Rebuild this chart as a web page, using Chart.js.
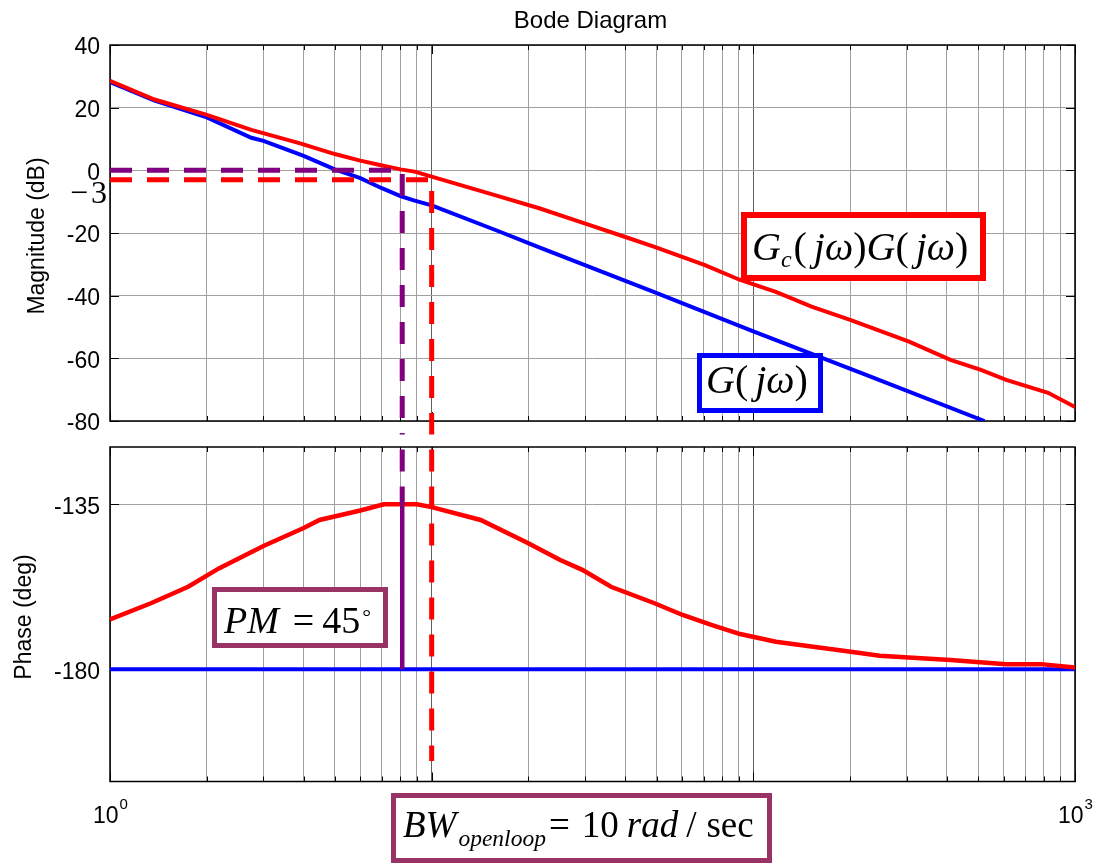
<!DOCTYPE html>
<html>
<head>
<meta charset="utf-8">
<title>Bode Diagram</title>
<script src="https://cdn.jsdelivr.net/npm/chart.js@4.4.1/dist/chart.umd.min.js"></script>
<style>
  html, body { margin: 0; padding: 0; background: #fff; }
  #wrap { position: relative; width: 1095px; height: 864px; overflow: hidden; }
  canvas { position: absolute; left: 0; }
  #mag { top: 0; }
  #phase { top: 434px; }
</style>
</head>
<body>
<div id="wrap">
  <canvas id="mag" width="1095" height="434"></canvas>
  <canvas id="phase" width="1095" height="430"></canvas>
</div>
<script>
// ── DATA ─────────────────────────────────────
// vertical grid lines (rad/s)
const gridFreqs = [1, 2, 3, 4, 5, 6, 7, 8, 9, 10, 20, 30, 40, 50, 60, 70, 80, 90,
                   100, 200, 300, 400, 500, 600, 700, 800, 900, 1000];
const decades = [1, 10, 100, 1000];
const decadeExp = ['0', '1', '2', '3'];
const magTicks = [40, 20, 0, -20, -40, -60, -80];
const phaseTicks = [-180, -135];

// G(jw) - plant
const plantMagW  = [1, 1.37, 2, 2.75, 3, 4, 5, 6, 7, 8, 8.8, 10, 16.3, 21.7, 49, 100, 218, 523];
const plantMagDb = [28.2, 22.3, 16.9, 10.4, 9.4, 4.6, 0.3, -2.5, -5.7, -8.2, -9.6, -11.2, -19.6, -24.7, -38.8, -51.4, -64.8, -80];
const plantPhaseW   = [1, 1000];
const plantPhaseDeg = [-180, -180];

// Gc(jw)G(jw) - compensated loop
const loopMagW  = [1, 1.375, 2, 2.75, 3.9, 5, 6, 6.9, 8, 8.85, 10, 16.3, 21.6, 29.4, 39.8, 49.3,
                   70.4, 91, 117.5, 151.7, 201, 305, 410, 510, 611, 825, 1000];
const loopMagDb = [28.6, 22.6, 17.7, 12.9, 8.6, 5.2, 3.1, 1.7, 0.3, -0.4, -2, -8.4, -12.1, -16.7, -21.2, -24.4,
                   -30.2, -35, -38.8, -43.5, -47.8, -54.7, -60.5, -63.7, -66.9, -71, -75.5];
const loopPhaseW   = [1, 1.34, 1.75, 2.18, 3, 4, 4.48, 6, 7.1, 9, 10, 14.2, 19.9, 25.1, 29.4, 36.1,
                      49.3, 60.3, 74, 91, 117.5, 201, 247, 410, 611, 783, 1000];
const loopPhaseDeg = [-166.4, -162, -157.5, -152.5, -146.4, -141.5, -139.3, -136.7, -135, -135, -135.8, -139.3, -145.6, -150.2, -152.9, -157.5,
                      -162, -165.2, -167.9, -170.4, -172.5, -175.2, -176.3, -177.5, -178.6, -178.6, -179.5];

// markers
const wc = 8.1;        // 0 dB crossover
const wbw = 10;        // open-loop bandwidth
const bwLevel = -3;    // dB
const pmTop = -135, pmBottom = -180;
const bwLineEnd = -205;

const PHASE_TOP = 434; // page offset of the phase canvas

// ── HELPERS ──────────────────────────────────
const sans  = '"Liberation Sans", Arial, sans-serif';
const serif = '"Liberation Serif", "Times New Roman", serif';
const pts = (ws, vs) => ws.map((w, i) => ({ x: w, y: vs[i] }));

function line(data, color, width, extra) {
  return Object.assign({
    data, borderColor: color, borderWidth: width,
    pointRadius: 0, tension: 0, fill: false
  }, extra || {});
}

function drawBox(ctx, x, y, w, h, lw, color) {
  ctx.fillStyle = '#fff';
  ctx.fillRect(x, y, w, h);
  ctx.lineWidth = lw;
  ctx.strokeStyle = color;
  ctx.strokeRect(x + lw / 2, y + lw / 2, w - lw, h - lw);
}

// text runs with mixed fonts, drawn left to right on one baseline
function drawRich(ctx, x, y, parts) {
  ctx.fillStyle = '#000';
  ctx.textAlign = 'left';
  ctx.textBaseline = 'alphabetic';
  parts.forEach(p => {
    x += p.gap || 0;
    ctx.font = p.font;
    ctx.fillText(p.t, x, y + (p.dy || 0));
    x += ctx.measureText(p.t).width;
  });
}

function vText(ctx, text, x, y) {
  ctx.save();
  ctx.translate(x, y);
  ctx.rotate(-Math.PI / 2);
  ctx.textAlign = 'center';
  ctx.textBaseline = 'alphabetic';
  ctx.fillStyle = '#000';
  ctx.font = '23px ' + sans;
  ctx.fillText(text, 0, 0);
  ctx.restore();
}

// box + inward tick marks, drawn under the curves
const frame = {
  id: 'frame',
  beforeDatasetsDraw(chart) {
    const { ctx, chartArea: a, scales: { x, y } } = chart;
    ctx.save();
    ctx.strokeStyle = '#000';
    ctx.lineWidth = 1;
    ctx.beginPath();
    gridFreqs.forEach(v => {
      const px = Math.round(x.getPixelForValue(v)) + 0.5;
      const len = decades.includes(v) ? 9 : 5;
      ctx.moveTo(px, a.top); ctx.lineTo(px, a.top + len);
      ctx.moveTo(px, a.bottom); ctx.lineTo(px, a.bottom - len);
    });
    y.ticks.forEach(t => {
      const py = Math.round(y.getPixelForValue(t.value)) + 0.5;
      ctx.moveTo(a.left, py); ctx.lineTo(a.left + 9, py);
      ctx.moveTo(a.right, py); ctx.lineTo(a.right - 9, py);
    });
    ctx.stroke();
    ctx.lineWidth = 1.5;
    ctx.strokeRect(a.left, a.top, a.right - a.left, a.bottom - a.top);
    ctx.restore();
  }
};

function xScale() {
  return {
    type: 'logarithmic', min: 1, max: 1000,
    afterBuildTicks: s => { s.ticks = gridFreqs.map(v => ({ value: v })); },
    afterFit: s => { s.height = 0; s.paddingLeft = 0; s.paddingRight = 0; },
    ticks: { display: false },
    grid: {
      drawTicks: false,
      color: c => decades.includes(c.tick && c.tick.value) ? '#606060' : '#a0a0a0',
      lineWidth: 1
    },
    border: { display: false }
  };
}

function yScale(min, max, ticks) {
  return {
    min, max,
    afterBuildTicks: s => { s.ticks = ticks.map(v => ({ value: v })); },
    // fixed axis width, no extra room reserved for the end labels
    afterFit: s => { s.width = 110; s.paddingTop = 0; s.paddingBottom = 0; },
    ticks: { color: '#000', font: { family: sans, size: 23 }, padding: 10, labelOffset: 3 },
    grid: { drawTicks: false, color: '#a0a0a0', lineWidth: 1 },
    border: { display: false }
  };
}

const baseOptions = {
  responsive: false, animation: false, devicePixelRatio: 1, events: [],
  plugins: { legend: { display: false }, tooltip: { enabled: false } }
};

// ── MAGNITUDE ────────────────────────────────
const magLabels = {
  id: 'magLabels',
  afterDraw(chart) {
    const { ctx, chartArea: a } = chart;
    ctx.save();
    ctx.fillStyle = '#000';
    ctx.textAlign = 'center';
    ctx.font = '24px ' + sans;
    ctx.fillText('Bode Diagram', (a.left + a.right) / 2 - 2, 28);
    vText(ctx, 'Magnitude (dB)', 44, 236);

    // -3 dB level label (minus set apart from the digit)
    ctx.font = '32px ' + serif;
    ctx.textAlign = 'left';
    ctx.fillText('\u2212', 70, 203);
    ctx.textAlign = 'right';
    ctx.fillText('3', 107, 203);

    const it = s => 'italic ' + s + 'px ' + serif;
    const rm = s => s + 'px ' + serif;

    drawBox(ctx, 741, 212, 245, 69, 6, '#ff0000');
    drawRich(ctx, 752, 260, [
      { t: 'G', font: it(40) },
      { t: 'c', font: it(24), dy: 7 },
      { t: '(', font: rm(40), gap: 2 },
      { t: 'j', font: it(40), gap: 7 },
      { t: '\u03c9', font: it(40) },
      { t: ')', font: rm(40) },
      { t: 'G', font: it(40) },
      { t: '(', font: rm(40) },
      { t: 'j', font: it(40), gap: 7 },
      { t: '\u03c9', font: it(40) },
      { t: ')', font: rm(40) }
    ]);

    drawBox(ctx, 697, 353, 126, 60, 5, '#0000ff');
    drawRich(ctx, 706, 393, [
      { t: 'G', font: it(40) },
      { t: '(', font: rm(40) },
      { t: 'j', font: it(40), gap: 7 },
      { t: '\u03c9', font: it(40) },
      { t: ')', font: rm(40) }
    ]);
    ctx.restore();
  }
};

new Chart(document.getElementById('mag'), {
  type: 'line',
  data: {
    datasets: [
      line([{ x: 1, y: 0 }, { x: wc, y: 0 }, { x: wc, y: -95 }], '#800080', 5,
           { borderDash: [22, 15], clip: false }),
      line([{ x: 1, y: bwLevel }, { x: wbw, y: bwLevel }, { x: wbw, y: -95 }], '#ff0000', 5,
           { borderDash: [22, 15], clip: false }),
      line(pts(loopMagW, loopMagDb), '#ff0000', 4),
      line(pts(plantMagW, plantMagDb), '#0000ff', 4)
    ]
  },
  options: Object.assign({}, baseOptions, {
    layout: { padding: { top: 45, left: 0, right: 20, bottom: 13 } },
    scales: { x: xScale(), y: yScale(-80, 40, magTicks) }
  }),
  plugins: [frame, magLabels]
});

// ── PHASE ────────────────────────────────────
const phaseLabels = {
  id: 'phaseLabels',
  afterDraw(chart) {
    const { ctx, scales: { x } } = chart;
    ctx.save();
    ctx.translate(0, -PHASE_TOP);
    vText(ctx, 'Phase (deg)', 31, 617);

    // 10^n labels under the decades
    ctx.fillStyle = '#000';
    ctx.textAlign = 'left';
    decades.forEach((v, i) => {
      ctx.font = '23px ' + sans;
      const wBase = ctx.measureText('10').width;
      ctx.font = '15px ' + sans;
      const wExp = ctx.measureText(decadeExp[i]).width;
      const x0 = x.getPixelForValue(v) - (wBase + wExp) / 2;
      ctx.font = '23px ' + sans;
      ctx.fillText('10', x0, 823);
      ctx.font = '15px ' + sans;
      ctx.fillText(decadeExp[i], x0 + wBase + 1, 809);
    });

    const it = s => 'italic ' + s + 'px ' + serif;
    const rm = s => s + 'px ' + serif;

    drawBox(ctx, 212, 587, 176, 61, 5, '#993366');
    drawRich(ctx, 224, 633, [
      { t: 'PM', font: it(38) },
      { t: '=', font: rm(38), gap: 14 },
      { t: '45', font: rm(38), gap: 8 },
      { t: '\u00b0', font: rm(22), gap: 2, dy: -9 }
    ]);

    drawBox(ctx, 391, 793, 381, 70, 5, '#993366');
    drawRich(ctx, 403, 837, [
      { t: 'BW', font: it(37) },
      { t: 'openloop', font: it(23.5), gap: 2, dy: 9 },
      { t: '=', font: rm(37), gap: 3 },
      { t: '10', font: rm(37), gap: 12 },
      { t: 'rad', font: it(37), gap: 8 },
      { t: '/', font: rm(37), gap: 8 },
      { t: 'sec', font: rm(37), gap: 10 }
    ]);
    ctx.restore();
  }
};

new Chart(document.getElementById('phase'), {
  type: 'line',
  data: {
    datasets: [
      line([{ x: wc, y: -110 }, { x: wc, y: pmTop }], '#800080', 5,
           { borderDash: [22, 15], clip: false }),
      line([{ x: wc, y: pmTop }, { x: wc, y: pmBottom }], '#800080', 4.5),
      line([{ x: wbw, y: -110 }, { x: wbw, y: bwLineEnd }], '#ff0000', 5,
           { borderDash: [22, 15], clip: false }),
      line(pts(loopPhaseW, loopPhaseDeg), '#ff0000', 4.5),
      line(pts(plantPhaseW, plantPhaseDeg), '#0000ff', 4)
    ]
  },
  options: Object.assign({}, baseOptions, {
    layout: { padding: { top: 13, left: 0, right: 20, bottom: 82.5 } },
    scales: { x: xScale(), y: yScale(-210.6, -119.4, phaseTicks) }
  }),
  plugins: [frame, phaseLabels]
});
</script>
</body>
</html>
